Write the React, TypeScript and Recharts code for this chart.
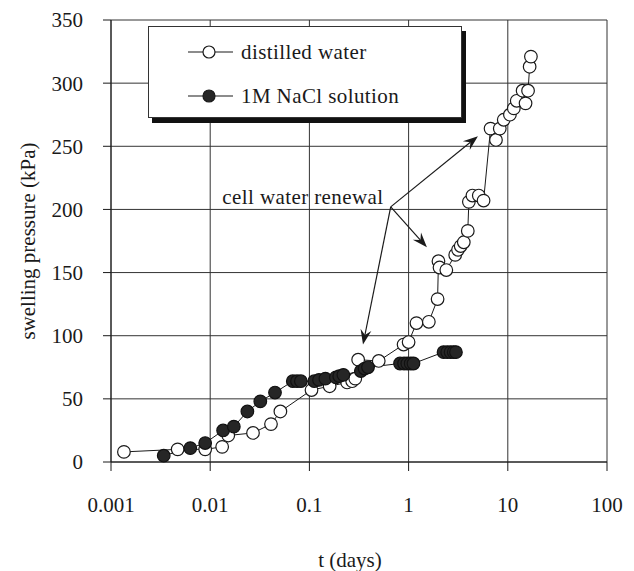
import React from 'react';
import {
    LineChart, Line, XAxis, YAxis, CartesianGrid, Legend, ReferenceLine, ReferenceDot, Label
} from 'recharts';

// t (days) and swelling pressure (kPa)
const distilledT = [0.00135, 0.0047, 0.0089, 0.0132, 0.0152, 0.027, 0.041, 0.051, 0.105, 0.16, 0.24, 0.27, 0.29, 0.31, 0.5, 0.89, 1.0, 1.2, 1.6, 1.96, 2.0, 2.05, 2.4, 2.95, 3.15, 3.35, 3.6, 3.95, 4.05, 4.4, 5.1, 5.7, 6.7, 7.6, 8.3, 9.1, 10.5, 11.5, 12.3, 14.1, 15.1, 16.0, 16.6, 17.1];
const distilledP = [8, 10, 10, 12, 21, 23, 30, 40, 57, 60, 63, 64, 66, 81, 80, 93, 95, 110, 111, 129, 159, 154, 152, 164, 168, 171, 174, 183, 206, 211, 211, 207, 264, 255, 264, 271, 275, 280, 286, 294, 284, 294, 313, 321];

const naclT = [0.0034, 0.0063, 0.0089, 0.0135, 0.0173, 0.0237, 0.032, 0.045, 0.068, 0.075, 0.082, 0.112, 0.125, 0.145, 0.185, 0.2, 0.22, 0.33, 0.36, 0.39, 0.82, 0.9, 0.97, 1.05, 1.12, 2.25, 2.45, 2.65, 2.85, 3.0];
const naclP = [5, 11, 15, 25, 28, 40, 48, 55, 64, 64, 64, 64, 65, 66, 67, 68, 69, 72, 74, 75, 78, 78, 78, 78, 78, 87, 87, 87, 87, 87];

const xTicks = [0.001, 0.01, 0.1, 1, 10, 100];
const yTicks = [0, 50, 100, 150, 200, 250, 300, 350];

// annotation: label position, arrow origin and arrow tips (data coords)
const noteText = 'cell water renewal';
const notePos = { t: 0.086, p: 210 };
const arrowFrom = { t: 0.66, p: 202 };
const arrowTips = [
    { t: 5.0, p: 258 },
    { t: 1.53, p: 170 },
    { t: 0.347, p: 93 },
];

const distilled = distilledT.map((t, i) => ({ t, p: distilledP[i] }));
const nacl = naclT.map((t, i) => ({ t, p: naclP[i] }));

const FONT = '"Liberation Serif", "Times New Roman", serif';
const INK = '#1a1a1a';

function Arrow(props: any) {
    const { x1, y1, x2, y2 } = props;
    const a = Math.atan2(y2 - y1, x2 - x1);
    const c = Math.cos(a), s = Math.sin(a);
    const len = 15, w = 5.5;
    const bx = x2 - len * c, by = y2 - len * s;
    const nx = x2 - len * 0.65 * c, ny = y2 - len * 0.65 * s;
    const pts = [
        [x2, y2],
        [bx - w * s, by + w * c],
        [nx, ny],
        [bx + w * s, by - w * c],
    ].map(p => p.join(',')).join(' ');
    return (
        <g>
            <line x1={x1} y1={y1} x2={nx} y2={ny} stroke={INK} strokeWidth={1.2} />
            <polygon points={pts} fill={INK} />
        </g>
    );
}

function LegendBox() {
    const rows = [
        { name: 'distilled water', fill: '#fff' },
        { name: '1M NaCl solution', fill: '#262626' },
    ];
    return (
        <div style={{
            width: 312, height: 90, background: '#fff', border: '1px solid #333',
            boxShadow: '4px 5px 0 #111', fontFamily: FONT, fontSize: 21, color: INK,
            position: 'relative'
        }}>
            {rows.map((r, i) => (
                <div key={r.name} style={{ position: 'absolute', left: 38, top: 12 + i * 44, display: 'flex', alignItems: 'center', height: 26 }}>
                    <svg width={48} height={16}>
                        <line x1={1} y1={8} x2={46} y2={8} stroke={INK} strokeWidth={1.2} />
                        <circle cx={22} cy={8} r={6} fill={r.fill} stroke={INK} strokeWidth={1.2} />
                    </svg>
                    <span style={{ marginLeft: 6, letterSpacing: 0.4 }}>{r.name}</span>
                </div>
            ))}
        </div>
    );
}

export default function App() {
    return (
        <div style={{ position: 'absolute', left: 0, top: 0, background: '#fff' }}>
            <LineChart width={634} height={571} margin={{ top: 20, right: 27, left: 0, bottom: 0 }}>
                <CartesianGrid stroke="#333" strokeWidth={1} />
                <XAxis
                    dataKey="t"
                    type="number"
                    scale="log"
                    domain={[0.001, 100]}
                    ticks={xTicks}
                    allowDataOverflow
                    height={109}
                    tickSize={9}
                    tickMargin={26}
                    tickFormatter={(v: number) => String(v)}
                    tick={{ fontSize: 21, fill: INK, fontFamily: FONT }}
                    stroke={INK}
                >
                    <Label value="t (days)" position="insideBottom" offset={4} dx={-9}
                        style={{ fontSize: 21, fill: INK, fontFamily: FONT }} />
                </XAxis>
                <YAxis
                    dataKey="p"
                    type="number"
                    domain={[0, 350]}
                    ticks={yTicks}
                    width={111}
                    tickSize={8}
                    tickMargin={20}
                    tick={{ fontSize: 21, fill: INK, fontFamily: FONT }}
                    stroke={INK}
                >
                    <Label value="swelling pressure (kPa)" angle={-90} position="center" dx={-28}
                        style={{ fontSize: 21, fill: INK, fontFamily: FONT, textAnchor: 'middle' }} />
                </YAxis>
                <Legend
                    layout="horizontal"
                    verticalAlign="middle"
                    align="center"
                    wrapperStyle={{ position: 'absolute', left: 148, top: 26, width: 'auto' }}
                    content={() => <LegendBox />}
                />
                <Line data={distilled} dataKey="p" name="distilled water" stroke={INK} strokeWidth={1}
                    dot={{ r: 6.3, fill: '#fff', stroke: INK, strokeWidth: 1.2 }} isAnimationActive={false} />
                <Line data={nacl} dataKey="p" name="1M NaCl solution" stroke={INK} strokeWidth={1}
                    dot={{ r: 6.3, fill: '#262626', stroke: '#111', strokeWidth: 1.2 }} isAnimationActive={false} />
                {arrowTips.map((tip, i) => (
                    <ReferenceLine key={i}
                        segment={[{ x: arrowFrom.t, y: arrowFrom.p }, { x: tip.t, y: tip.p }]}
                        shape={(p: any) => <Arrow {...p} />} />
                ))}
                <ReferenceDot x={notePos.t} y={notePos.p} r={0}
                    shape={(p: any) => (
                        <text x={p.cx} y={p.cy} textAnchor="middle" dominantBaseline="central"
                            fontSize={21} fill={INK} fontFamily={FONT} letterSpacing={0.4}>{noteText}</text>
                    )} />
            </LineChart>
        </div>
    );
}
